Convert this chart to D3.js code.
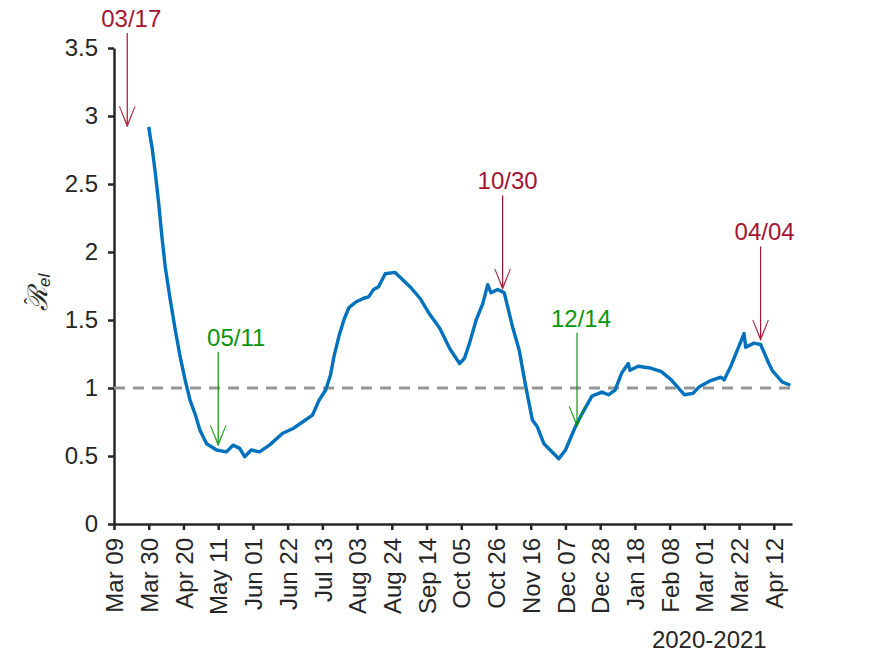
<!DOCTYPE html>
<html>
<head>
<meta charset="utf-8">
<script src="https://cdn.jsdelivr.net/npm/d3@7"></script>
<style>
  html, body { margin: 0; padding: 0; background: #fff; }
  #chart-area { width: 875px; height: 656px; }
  text { font-family: "Liberation Sans", Arial, Helvetica, sans-serif; }
  .tick-label { fill: #262626; font-size: 24px; }
</style>
</head>
<body>
<div id="chart-area"></div>
<script>
// estimated R_el curve
const dates = [
  "2020-03-30", "2020-03-31", "2020-04-01", "2020-04-03", "2020-04-05", "2020-04-07",
  "2020-04-09", "2020-04-12", "2020-04-15", "2020-04-18", "2020-04-21", "2020-04-24",
  "2020-04-27", "2020-04-30", "2020-05-04", "2020-05-10", "2020-05-16", "2020-05-20",
  "2020-05-24", "2020-05-27", "2020-05-31", "2020-06-05", "2020-06-11", "2020-06-19",
  "2020-06-25", "2020-07-01", "2020-07-07", "2020-07-11", "2020-07-15", "2020-07-18",
  "2020-07-20", "2020-07-23", "2020-07-26", "2020-07-29", "2020-08-02", "2020-08-07",
  "2020-08-10", "2020-08-13", "2020-08-16", "2020-08-20", "2020-08-26", "2020-09-04",
  "2020-09-10", "2020-09-16", "2020-09-22", "2020-09-28", "2020-10-04", "2020-10-07",
  "2020-10-10", "2020-10-14", "2020-10-18", "2020-10-21", "2020-10-23", "2020-10-27",
  "2020-10-31", "2020-11-05", "2020-11-09", "2020-11-13", "2020-11-17", "2020-11-20",
  "2020-11-24", "2020-12-03", "2020-12-07", "2020-12-13", "2020-12-17", "2020-12-23",
  "2020-12-29", "2021-01-02", "2021-01-06", "2021-01-10", "2021-01-14", "2021-01-15",
  "2021-01-20", "2021-01-28", "2021-02-03", "2021-02-09", "2021-02-17", "2021-02-22",
  "2021-02-26", "2021-03-04", "2021-03-11", "2021-03-13", "2021-03-17", "2021-03-21",
  "2021-03-25", "2021-03-26", "2021-03-31", "2021-04-04", "2021-04-09", "2021-04-11",
  "2021-04-17", "2021-04-22"
];
const rValues = [
  2.92, 2.84, 2.77, 2.58, 2.36, 2.11,
  1.89, 1.65, 1.43, 1.23, 1.06, 0.91,
  0.81, 0.69, 0.59, 0.544, 0.53, 0.58,
  0.556, 0.495, 0.544, 0.53, 0.58, 0.667,
  0.70, 0.75, 0.80, 0.91, 0.985, 1.10,
  1.23, 1.38, 1.50, 1.59, 1.63, 1.66,
  1.67, 1.725, 1.745, 1.84, 1.85, 1.745,
  1.66, 1.54, 1.44, 1.29, 1.18, 1.22,
  1.33, 1.50, 1.62, 1.76, 1.70, 1.725,
  1.70, 1.45, 1.28, 1.01, 0.765, 0.715,
  0.59, 0.48, 0.544, 0.715, 0.81, 0.94,
  0.97, 0.95, 0.985, 1.11, 1.18, 1.13,
  1.16, 1.145, 1.12, 1.06, 0.95, 0.96,
  1.01, 1.05, 1.08, 1.06, 1.16, 1.28,
  1.40, 1.30, 1.33, 1.32, 1.18, 1.13,
  1.045, 1.02
];

// annotations
const noteDates = ["2020-03-17", "2020-05-11", "2020-10-30", "2020-12-14", "2021-04-04"];
const noteValues = [2.92, 0.575, 1.725, 0.715, 1.35];
const noteLabels = ["03/17", "05/11", "10/30", "12/14", "04/04"];
const noteKinds = ["up", "down", "up", "down", "up"];

// x ticks every 3 weeks
const tickStart = "2020-03-09";
const tickEnd = "2021-04-12";
const xDomain = ["2020-03-09", "2021-04-23"];
const yTicks = [0, 0.5, 1, 1.5, 2, 2.5, 3, 3.5];
const threshold = 1;
const xTitle = "2020-2021";
const xTitleAt = "2021-03-04";

class RtVis {
  constructor(_parentElement) {
    this.parentElement = _parentElement;
    this.initVis();
  }

  initVis() {
    let vis = this;
    vis.parse = d3.timeParse("%Y-%m-%d");

    vis.margin = { top: 48, right: 83, bottom: 132, left: 114 };
    vis.width = 875 - vis.margin.left - vis.margin.right;
    vis.height = 656 - vis.margin.top - vis.margin.bottom;

    vis.svg = d3.select("#" + vis.parentElement)
      .append("svg")
      .attr("width", 875)
      .attr("height", 656)
      .append("g")
      .attr("transform", "translate(" + vis.margin.left + "," + vis.margin.top + ")");

    vis.x = d3.scaleTime()
      .domain(xDomain.map(vis.parse))
      .range([0, vis.width]);
    vis.y = d3.scaleLinear()
      .domain([0, 3.5])
      .range([vis.height, 0]);

    vis.data = dates.map((d, i) => ({ date: vis.parse(d), value: rValues[i] }));
    vis.notes = noteDates.map((d, i) => ({
      date: vis.parse(d), value: noteValues[i], label: noteLabels[i], kind: noteKinds[i]
    }));
    vis.xTicks = d3.timeDay.range(vis.parse(tickStart), d3.timeDay.offset(vis.parse(tickEnd), 1))
      .filter((d, i) => i % 21 === 0);

    vis.updateVis();
  }

  updateVis() {
    let vis = this;
    const axisColor = "#262626";

    // x axis
    let xAxis = vis.svg.append("g")
      .attr("transform", "translate(0," + vis.height + ")")
      .call(d3.axisBottom(vis.x).tickValues(vis.xTicks)
        .tickFormat(d3.timeFormat("%b %d")).tickSize(6).tickSizeOuter(0));
    xAxis.select(".domain").attr("stroke", axisColor).attr("stroke-width", 2.5);
    xAxis.selectAll(".tick line").attr("stroke", axisColor).attr("stroke-width", 2.5);
    xAxis.selectAll(".tick text")
      .attr("class", "tick-label")
      .attr("text-anchor", "end")
      .attr("transform", "rotate(-90)")
      .attr("x", -14)
      .attr("y", 0)
      .attr("dy", "0.36em");

    // y axis
    let yAxis = vis.svg.append("g")
      .call(d3.axisLeft(vis.y).tickValues(yTicks)
        .tickFormat(d3.format("~g")).tickSize(6).tickSizeOuter(0));
    yAxis.select(".domain").attr("stroke", axisColor).attr("stroke-width", 2.5);
    yAxis.selectAll(".tick line").attr("stroke", axisColor).attr("stroke-width", 2.5);
    yAxis.selectAll(".tick text")
      .attr("class", "tick-label")
      .attr("x", -16);

    // y label: R hat with subscript el
    let yLab = vis.svg.append("g")
      .attr("transform", "translate(-67," + (vis.height / 2 + 3) + ") rotate(-90)")
      .attr("fill", axisColor)
      .style("font-family", "'DejaVu Serif', 'Liberation Serif', serif")
      .style("font-style", "italic");
    yLab.append("text")
      .attr("x", -22).attr("y", 0)
      .attr("font-size", 27)
      .text("\u211B");
    yLab.append("text")
      .attr("x", -12).attr("y", -8)
      .attr("text-anchor", "middle")
      .attr("font-size", 20)
      .style("font-style", "normal")
      .text("\u02C6");
    yLab.append("text")
      .attr("x", 2).attr("y", 3)
      .attr("font-size", 17)
      .text("el");

    // x title
    vis.svg.append("text")
      .attr("x", vis.x(vis.parse(xTitleAt)))
      .attr("y", 600)
      .attr("text-anchor", "middle")
      .attr("fill", axisColor)
      .style("font-size", "24px")
      .text(xTitle);

    // threshold line
    vis.svg.append("line")
      .attr("x1", 0).attr("x2", vis.width)
      .attr("y1", vis.y(threshold)).attr("y2", vis.y(threshold))
      .attr("stroke", "#969696")
      .attr("stroke-width", 3)
      .attr("stroke-dasharray", "11,8");

    // R curve
    let line = d3.line()
      .x((d) => vis.x(d.date))
      .y((d) => vis.y(d.value));
    vis.svg.append("path")
      .datum(vis.data)
      .attr("fill", "none")
      .attr("stroke", "#0072BD")
      .attr("stroke-width", 3.4)
      .attr("stroke-linejoin", "round")
      .attr("d", line);

    // text arrows
    const colors = { up: "#A2142F", down: "#0A960A" };
    const labelShift = { "03/17": 4, "05/11": 18, "10/30": 5, "12/14": 4, "04/04": 4 };
    let notes = vis.svg.selectAll(".note")
      .data(vis.notes)
      .enter()
      .append("g")
      .attr("class", "note")
      .attr("transform", (d) => "translate(" + vis.x(d.date) + "," + vis.y(d.value) + ")");

    notes.append("line")
      .attr("x1", 0).attr("x2", 0)
      .attr("y1", -94).attr("y2", -3)
      .attr("stroke", (d) => colors[d.kind])
      .attr("stroke-width", 1.2);

    notes.append("path")
      .attr("d", "M-7.8,-20.5 L0,0 L7.8,-20.5 L0.6,-3.5 L0,-2 L-0.6,-3.5 Z")
      .attr("fill", (d) => colors[d.kind])
      .attr("stroke", (d) => colors[d.kind])
      .attr("stroke-width", 0.6);

    notes.append("text")
      .attr("x", (d) => labelShift[d.label])
      .attr("y", -100)
      .attr("text-anchor", "middle")
      .attr("fill", (d) => colors[d.kind])
      .style("font-size", "24px")
      .text((d) => d.label);
  }
}

new RtVis("chart-area");
</script>
</body>
</html>
